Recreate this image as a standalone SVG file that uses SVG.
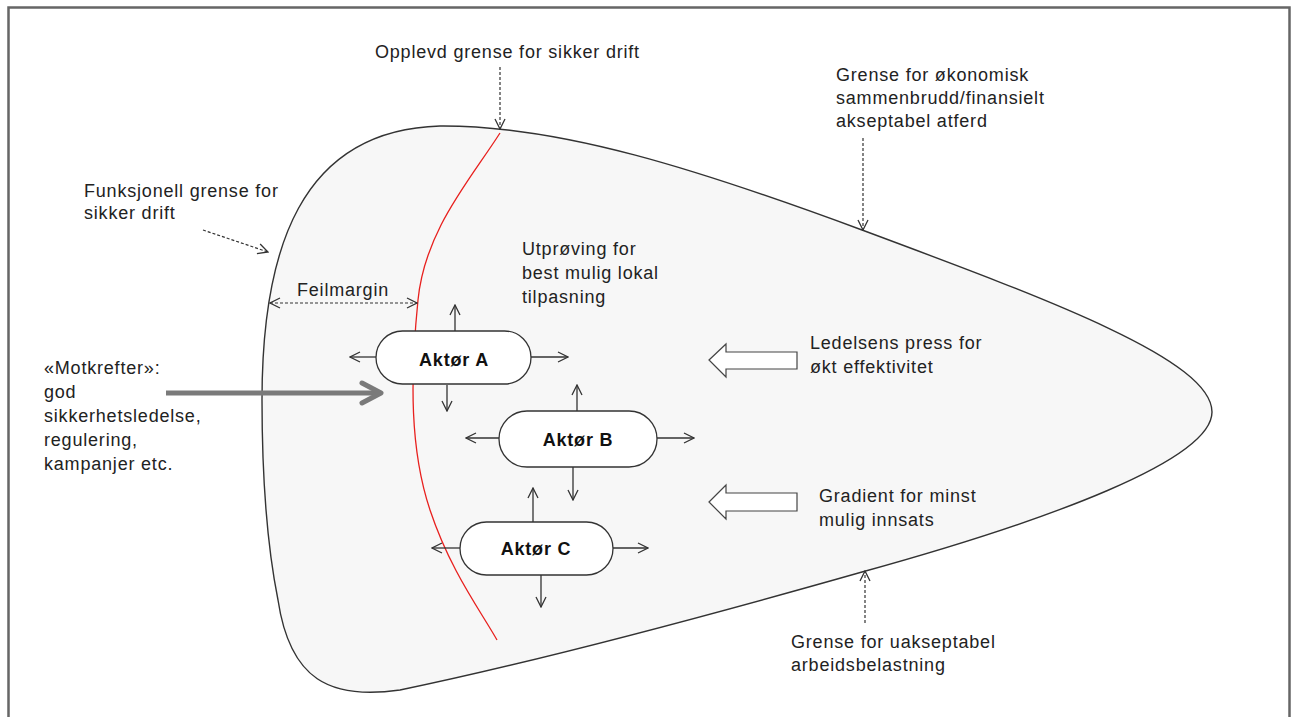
<svg xmlns="http://www.w3.org/2000/svg" width="1291" height="717" viewBox="0 0 1291 717">
<style>
.t{font-family:"Liberation Sans",Arial,sans-serif;font-size:18px;letter-spacing:0.8px;fill:#222;}
.b{font-family:"Liberation Sans",Arial,sans-serif;font-size:18px;letter-spacing:0.8px;font-weight:bold;fill:#111;text-anchor:middle;}
.node{fill:#fff;stroke:#333;stroke-width:1.3;}
.ar{stroke:#333;stroke-width:1.3;fill:none;marker-end:url(#ah);}
.da{stroke:#333;stroke-width:1.2;fill:none;stroke-dasharray:3,2;marker-end:url(#ah);}
.blk{fill:#fff;stroke:#444;stroke-width:1.2;}
</style>
<defs>
<marker id="ah" viewBox="0 0 12 12" refX="11" refY="6" markerWidth="12" markerHeight="12" markerUnits="userSpaceOnUse" orient="auto-start-reverse">
<path d="M1,1 L11,6 L1,11" fill="none" stroke="#333" stroke-width="1.3"/>
</marker>
</defs>
<rect x="0" y="0" width="1291" height="717" fill="#fff"/>
<rect x="8.5" y="7.5" width="1281" height="720" fill="none" stroke="#666" stroke-width="2.5"/>
<g id="envelope">
<path d="M440,126 C560,125 700,170 862,230 C1050,300 1212,360 1212,412 C1212,460 1050,520 862,572 C700,618 520,665 400,690 C330,700 290,680 278,600 C266,540 262,470 262,400 C262,250 300,130 440,126 Z" fill="#f7f7f7" stroke="#333" stroke-width="1.4"/>
<path d="M500,133 C470,180 425,230 418,300 C410,380 410,450 430,510 C450,570 480,610 497,640" fill="none" stroke="#e8201e" stroke-width="1.3"/>
</g>
<g id="labels">
<text class="t" x="375" y="58">Opplevd grense for sikker drift</text>
<text class="t"><tspan x="836" y="81">Grense for økonomisk</tspan><tspan x="836" y="104">sammenbrudd/finansielt</tspan><tspan x="836" y="127">akseptabel atferd</tspan></text>
<text class="t"><tspan x="84" y="197">Funksjonell  grense for</tspan><tspan x="84" y="219">sikker drift</tspan></text>
<text class="t"><tspan x="522" y="255">Utprøving  for</tspan><tspan x="522" y="279">best mulig lokal</tspan><tspan x="522" y="303">tilpasning</tspan></text>
<text class="t" x="297" y="296">Feilmargin</text>
<text class="t"><tspan x="810" y="349">Ledelsens press for</tspan><tspan x="810" y="373">økt effektivitet</tspan></text>
<text class="t"><tspan x="44" y="374">«Motkrefter»:</tspan><tspan x="44" y="398">god</tspan><tspan x="44" y="422">sikkerhetsledelse,</tspan><tspan x="44" y="446">regulering,</tspan><tspan x="44" y="470">kampanjer etc.</tspan></text>
<text class="t"><tspan x="819" y="502">Gradient for minst</tspan><tspan x="819" y="526">mulig innsats</tspan></text>
<text class="t"><tspan x="791" y="648">Grense for uakseptabel</tspan><tspan x="791" y="671">arbeidsbelastning</tspan></text>
</g>
<g id="connectors">
<line class="da" x1="500" y1="67" x2="500" y2="129"/>
<line class="da" x1="863" y1="138" x2="863" y2="230"/>
<line class="da" x1="203" y1="230" x2="268" y2="252"/>
<line class="da" x1="865" y1="623" x2="865" y2="571"/>
<line class="da" x1="270" y1="303" x2="417" y2="303" style="marker-start:url(#ah)"/>
<line x1="166" y1="393" x2="380" y2="393" stroke="#7a7a7a" stroke-width="5"/>
<path d="M362,383 L381,393 L362,403" fill="none" stroke="#7a7a7a" stroke-width="5" stroke-linecap="round" stroke-linejoin="round"/>
<path class="blk" d="M709,360 L726,344 L726,352 L797,352 L797,369 L726,369 L726,377 Z"/>
<path class="blk" d="M709,502 L726,485 L726,493 L797,493 L797,511 L726,511 L726,519 Z"/>
<line class="ar" x1="455" y1="331" x2="455" y2="305"/>
<line class="ar" x1="376" y1="357" x2="350" y2="357"/>
<line class="ar" x1="531" y1="357" x2="568" y2="357"/>
<line class="ar" x1="447" y1="385" x2="447" y2="411"/>
<line class="ar" x1="577" y1="411" x2="577" y2="385"/>
<line class="ar" x1="499" y1="438" x2="466" y2="438"/>
<line class="ar" x1="657" y1="438" x2="694" y2="438"/>
<line class="ar" x1="573" y1="467" x2="573" y2="500"/>
<line class="ar" x1="533" y1="522" x2="533" y2="488"/>
<line class="ar" x1="460" y1="548" x2="432" y2="548"/>
<line class="ar" x1="613" y1="548" x2="648" y2="548"/>
<line class="ar" x1="541" y1="575" x2="541" y2="607"/>
</g>
<g id="aktorA"><rect class="node" x="376" y="331" width="155" height="53" rx="26.5"/><text class="b" x="454" y="366">Aktør A</text></g>
<g id="aktorB"><rect class="node" x="499" y="411" width="158" height="56" rx="28"/><text class="b" x="578" y="446">Aktør B</text></g>
<g id="aktorC"><rect class="node" x="460" y="522" width="153" height="53" rx="26.5"/><text class="b" x="536" y="555">Aktør C</text></g>
</svg>
